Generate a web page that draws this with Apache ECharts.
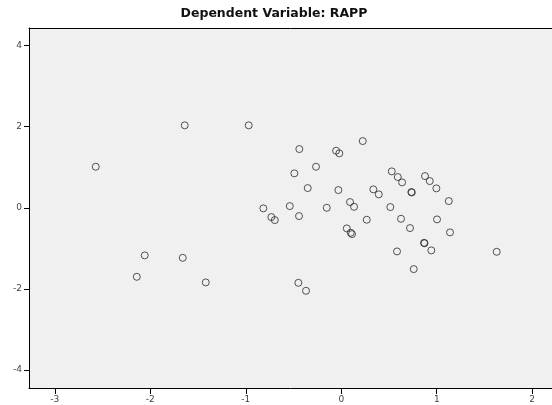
<!DOCTYPE html>
<html>
<head>
<meta charset="utf-8">
<script src="https://cdn.jsdelivr.net/npm/echarts@6/dist/echarts.min.js"></script>
<style>
  html, body { margin: 0; padding: 0; background: #ffffff; }
  #chart { width: 552px; height: 405px; }
</style>
</head>
<body>
<div id="chart"></div>
<script>
// Scatterplot of regression residuals vs. predicted values
const titleText = 'Dependent Variable: RAPP';

const xValues = [
  -2.571, -1.639, -0.969, -2.141, -2.058, -1.660, -1.419, -0.816, -0.732, -0.696,
  -0.439, -0.491, -0.351, -0.264, -0.539, -0.442, -0.152, -0.054, -0.020, 0.225,
  -0.030, 0.092, 0.134, 0.058, 0.099, 0.113, 0.267, -0.449, -0.369, 0.336,
  0.393, 0.529, 0.592, 0.637, 0.734, 0.739, 0.877, 0.927, 0.996, 1.126,
  0.514, 0.626, 0.720, 1.003, 1.139, 0.867, 0.872, 0.943, 0.584, 0.759,
  1.628
];
const yValues = [
  1.014, 2.035, 2.035, -1.699, -1.171, -1.231, -1.837, -0.012, -0.227, -0.301,
  1.450, 0.851, 0.488, 1.014, 0.044, -0.202, 0.002, 1.408, 1.344, 1.647,
  0.439, 0.143, 0.027, -0.506, -0.614, -0.646, -0.293, -1.847, -2.044, 0.456,
  0.333, 0.900, 0.760, 0.629, 0.390, 0.380, 0.784, 0.661, 0.481, 0.168,
  0.020, -0.269, -0.498, -0.284, -0.604, -0.861, -0.873, -1.048, -1.073, -1.509,
  -1.083
];

// Tick positions
const xTicks = [-3, -2, -1, 0, 1, 2];
const yTicks = [-4, -2, 0, 2, 4];

// Visible data range of the plot frame
const xRange = [-3.27, 2.207];
const yRange = [-4.44, 4.434];

const W = 552, H = 405;
const frame = { left: 29, top: 28, right: 0, bottom: 17 };

const points = xValues.map((x, i) => [x, yValues[i]]);

// The tick/label axes live in their own grid whose edges sit exactly on the
// outermost tick values, so interval-based ticks line up with the frame scale.
const fw = W - frame.left - frame.right;
const fh = H - frame.top - frame.bottom;
const xFirst = xTicks[0], xLast = xTicks[xTicks.length - 1];
const yFirst = yTicks[0], yLast = yTicks[yTicks.length - 1];
const pxX = v => frame.left + (v - xRange[0]) / (xRange[1] - xRange[0]) * fw;
const pxY = v => frame.top + (yRange[1] - v) / (yRange[1] - yRange[0]) * fh;
const tickGrid = {
  left: pxX(xFirst),
  right: W - pxX(xLast),
  top: pxY(yLast),
  bottom: H - pxY(yFirst)
};

const labelStyle = { fontFamily: 'DejaVu Sans', fontSize: 9, color: '#444444' };
const lineBlack = { color: '#000000', width: 1 };

const chart = echarts.init(document.getElementById('chart'), null, { renderer: 'canvas' });
chart.setOption({
  backgroundColor: '#ffffff',
  animation: false,
  title: {
    text: titleText,
    left: 269,
    top: 2,
    textAlign: 'center',
    textStyle: { fontFamily: 'DejaVu Sans', fontWeight: 'bold', fontSize: 12.5, color: '#111111' }
  },
  grid: [
    Object.assign({ show: true, backgroundColor: '#f0f0f0', borderWidth: 0 }, frame),
    Object.assign({ show: false }, tickGrid)
  ],
  xAxis: [
    {
      gridIndex: 0, type: 'value', position: 'bottom',
      min: xRange[0], max: xRange[1],
      splitLine: { show: false },
      axisLine: { show: true, onZero: false, lineStyle: lineBlack },
      axisTick: { show: false }, axisLabel: { show: false }
    },
    {
      gridIndex: 0, type: 'value', position: 'top',
      min: xRange[0], max: xRange[1],
      splitLine: { show: false },
      axisLine: { show: true, onZero: false, lineStyle: lineBlack },
      axisTick: { show: false }, axisLabel: { show: false }
    },
    {
      gridIndex: 1, type: 'value', position: 'bottom',
      min: xFirst, max: xLast, interval: 1,
      offset: tickGrid.bottom - frame.bottom,
      splitLine: { show: false },
      axisLine: { show: false, onZero: false },
      axisTick: { show: true, inside: false, length: 6, lineStyle: lineBlack },
      axisLabel: Object.assign({ show: true, margin: 7 }, labelStyle)
    }
  ],
  yAxis: [
    {
      gridIndex: 0, type: 'value', position: 'left',
      min: yRange[0], max: yRange[1],
      splitLine: { show: false },
      axisLine: { show: true, onZero: false, lineStyle: lineBlack },
      axisTick: { show: false }, axisLabel: { show: false }
    },
    {
      gridIndex: 1, type: 'value', position: 'left',
      min: yFirst, max: yLast, interval: 2,
      offset: tickGrid.left - frame.left,
      splitLine: { show: false },
      axisLine: { show: false, onZero: false },
      axisTick: { show: true, inside: false, length: 5, lineStyle: lineBlack },
      axisLabel: Object.assign({ show: true, margin: 7 }, labelStyle)
    }
  ],
  series: [{
    type: 'scatter',
    xAxisIndex: 0,
    yAxisIndex: 0,
    data: points,
    symbol: 'circle',
    symbolSize: 7,
    itemStyle: { color: 'rgba(0,0,0,0)', borderColor: '#2a2a2a', borderWidth: 1 },
    emphasis: { disabled: true }
  }]
});
</script>
</body>
</html>
